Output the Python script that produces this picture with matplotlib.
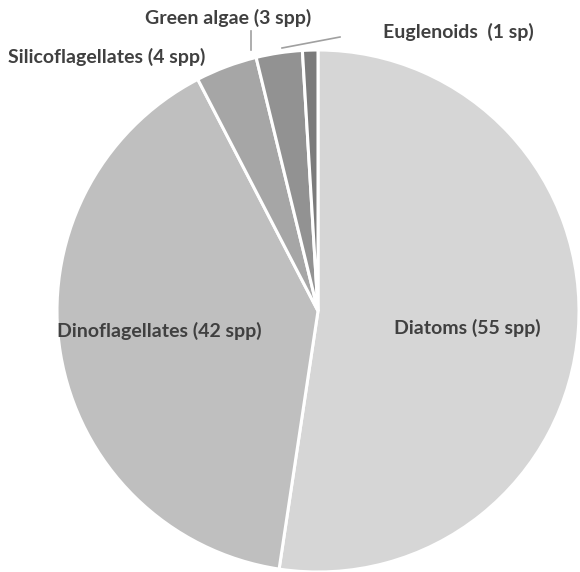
import matplotlib.pyplot as plt

# phytoplankton species counts per group
groups = ["Diatoms", "Dinoflagellates", "Silicoflagellates", "Green algae", "Euglenoids"]
species = [55, 42, 4, 3, 1]
labels = ["Diatoms (55 spp)", "Dinoflagellates (42 spp)", "Silicoflagellates (4 spp)",
          "Green algae (3 spp)", "Euglenoids  (1 sp)"]
colors = ["#d6d6d6", "#bfbfbf", "#a6a6a6", "#929292", "#7b7b7b"]

W, H = 580, 572
fig = plt.figure(figsize=(W / 100, H / 100), dpi=100)
ax = fig.add_axes([0, 0, 1, 1])

cx, cy, r = 318, H - 311, 261
ax.pie(species, colors=colors, startangle=90, counterclock=False,
       center=(cx, cy), radius=r,
       wedgeprops=dict(edgecolor="white", linewidth=2.2))

ax.set_xlim(0, W)
ax.set_ylim(0, H)
ax.set_aspect("equal")
ax.axis("off")

txt = dict(fontsize=14, fontweight="bold", color="#404040", family="Lato",
           ha="center", va="center")
label_pos = [(467, 328), (159, 331), (107, 57), (228, 18), (458, 32)]
for lab, (x, y) in zip(labels, label_pos):
    ax.text(x, H - y, lab, **txt)

# leader lines for the two small slices
ax.plot([251, 251], [H - 31, H - 50], color="#a0a0a0", lw=1.2)
ax.plot([282, 340], [H - 48, H - 37], color="#a0a0a0", lw=1.2)

fig.savefig("out.png", dpi=100)
